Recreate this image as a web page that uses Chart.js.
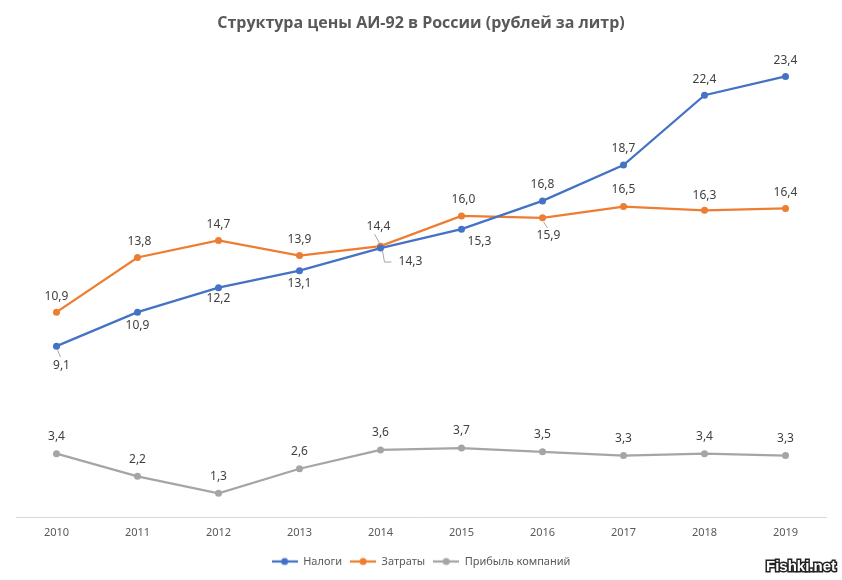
<!DOCTYPE html>
<html>
<head>
<meta charset="utf-8">
<script src="https://cdn.jsdelivr.net/npm/chart.js@4/dist/chart.umd.min.js"></script>
<style>
  html, body { margin: 0; padding: 0; background: #fff; }
  #wrap { width: 842px; height: 580px; }
</style>
</head>
<body>
<div id="wrap"><canvas id="priceChart" width="842" height="580"></canvas></div>
<script>
const years = ['2010', '2011', '2012', '2013', '2014', '2015', '2016', '2017', '2018', '2019'];
const taxes = [9.1, 10.9, 12.2, 13.1, 14.3, 15.3, 16.8, 18.7, 22.4, 23.4];
const costs = [10.9, 13.8, 14.7, 13.9, 14.4, 16.0, 15.9, 16.5, 16.3, 16.4];
const profit = [3.4, 2.2, 1.3, 2.6, 3.6, 3.7, 3.5, 3.3, 3.4, 3.3];

// label placement per point: [dx, dy] from the point, third item = leader line
const taxLabelPos = [[5, 19, true], [0, 13], [0, 11], [0, 13], [30, 14, true], [18, 12], [0, -16], [0, -16], [0, -16], [0, -16]];
const costLabelPos = [[0, -16], [2, -16], [0, -16], [0, -16], [-2, -20, true], [2, -16], [6, 18, true], [0, -17], [0, -15], [0, -16]];
const profitLabelPos = years.map(() => [0, -17]);

const BLUE = '#4472C4', ORANGE = '#ED7D31', GRAY = '#A5A5A5';

function legendIcon(color) {
    const c = document.createElement('canvas');
    c.width = 26; c.height = 10;
    const g = c.getContext('2d');
    g.strokeStyle = color; g.lineWidth = 2.25;
    g.beginPath(); g.moveTo(0, 5); g.lineTo(26, 5); g.stroke();
    g.fillStyle = color;
    g.beginPath(); g.arc(13, 5, 3.5, 0, Math.PI * 2); g.fill();
    return c;
}

const labelPlugin = {
    id: 'valueLabels',
    afterDatasetsDraw(chart) {
        const ctx = chart.ctx;
        ctx.save();
        ctx.font = '12px "Noto Sans", sans-serif';
        ctx.fillStyle = '#404040';
        ctx.textAlign = 'center';
        ctx.textBaseline = 'middle';
        chart.data.datasets.forEach((ds, i) => {
            const meta = chart.getDatasetMeta(i);
            meta.data.forEach((pt, j) => {
                const pos = ds.labelPos[j];
                const lx = pt.x + pos[0], ly = pt.y + pos[1];
                if (pos[2]) {
                    ctx.strokeStyle = '#A6A6A6';
                    ctx.lineWidth = 1;
                    ctx.beginPath();
                    if (pos[0] > 20) {
                        ctx.moveTo(pt.x + 2, pt.y + 3);
                        ctx.lineTo(lx - 26, ly);
                        ctx.lineTo(lx - 19, ly);
                    } else if (pos[1] < 0) {
                        ctx.moveTo(lx - 4, ly + 8);
                        ctx.lineTo(pt.x - 1, pt.y - 3);
                    } else {
                        ctx.moveTo(pt.x + 1, pt.y + 4);
                        ctx.lineTo(lx - 1, ly - 8);
                    }
                    ctx.stroke();
                }
                ctx.fillText(ds.data[j].toFixed(1).replace('.', ','), lx, ly);
            });
        });
        // watermark
        ctx.font = 'bold 15px "Liberation Sans", sans-serif';
        ctx.textAlign = 'right';
        ctx.lineWidth = 3;
        ctx.strokeStyle = '#222';
        ctx.strokeText('Fishki.net', 836, 567);
        ctx.fillStyle = '#fff';
        ctx.fillText('Fishki.net', 836, 567);
        ctx.restore();
    }
};

const icons = [legendIcon(BLUE), legendIcon(ORANGE), legendIcon(GRAY)];

const ctx = document.getElementById('priceChart').getContext('2d');
const priceChart = new Chart(ctx, {
    type: 'line',
    data: {
        labels: years,
        datasets: [
            { label: 'Налоги', data: taxes, borderColor: BLUE, backgroundColor: BLUE, labelPos: taxLabelPos },
            { label: 'Затраты', data: costs, borderColor: ORANGE, backgroundColor: ORANGE, labelPos: costLabelPos },
            { label: 'Прибыль компаний', data: profit, borderColor: GRAY, backgroundColor: GRAY, labelPos: profitLabelPos }
        ]
    },
    options: {
        responsive: false,
        animation: false,
        elements: {
            line: { borderWidth: 2.25, tension: 0 },
            point: { radius: 3.5, borderWidth: 0, hoverRadius: 3.5 }
        },
        layout: { padding: { left: 16, right: 16, top: 0, bottom: 3 } },
        scales: {
            x: {
                offset: true,
                grid: { display: false },
                border: { color: '#D9D9D9', width: 1 },
                ticks: { color: '#595959', font: { size: 11, family: '"Noto Sans", sans-serif' }, padding: 0 },
                afterFit(scale) { scale.height += 9; }
            },
            y: { display: false, min: 0, max: 25 }
        },
        plugins: {
            title: {
                display: true,
                text: 'Структура цены АИ-92 в России (рублей за литр)',
                color: '#595959',
                font: { size: 16, weight: 'bold', family: '"Open Sans", sans-serif' },
                padding: { top: 14, bottom: 13 }
            },
            legend: {
                position: 'bottom',
                labels: {
                    usePointStyle: true,
                    pointStyleWidth: 26,
                    color: '#595959',
                    font: { size: 11, family: '"Noto Sans", sans-serif' },
                    padding: 8,
                    generateLabels(chart) {
                        const items = Chart.defaults.plugins.legend.labels.generateLabels(chart);
                        items.forEach((it, k) => { it.pointStyle = icons[k]; });
                        return items;
                    }
                }
            },
            tooltip: { enabled: false }
        }
    },
    plugins: [labelPlugin]
});
</script>
</body>
</html>
